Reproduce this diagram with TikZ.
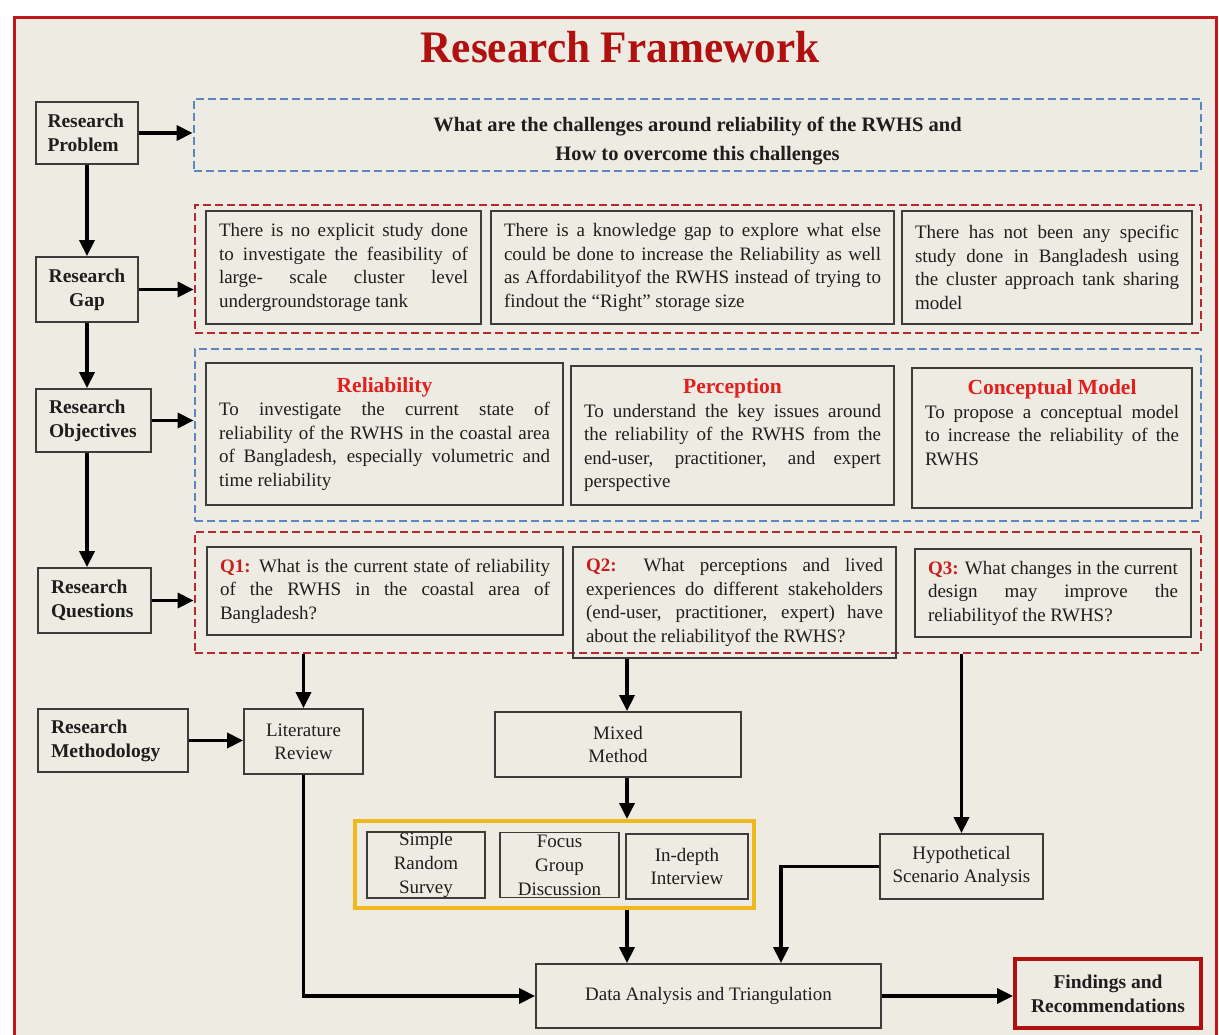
\documentclass[tikz,border=0pt]{standalone}
\usepackage{fontspec}
\setmainfont{Liberation Serif}
\usepackage{graphicx}
\usetikzlibrary{arrows.meta,calc}
\definecolor{bgbeige}{HTML}{EEEBE2}
\definecolor{framered}{HTML}{C0161C}
\definecolor{titlered}{HTML}{B0100F}
\definecolor{subred}{HTML}{E0201E}
\definecolor{qred}{HTML}{C81E1E}
\definecolor{dashblue}{HTML}{5B86C2}
\definecolor{dashred}{HTML}{B52A30}
\definecolor{boxgray}{HTML}{3C3C3C}
\definecolor{txt}{HTML}{1E1E1E}
\definecolor{goldline}{HTML}{F0B81C}
\newcommand\myBody{\fontsize{19}{23.5}\selectfont\setlength\parindent{0pt}}
\newcommand\myLbl{\fontsize{19}{23}\selectfont\setlength\parindent{0pt}}
\newcommand\myBold{\fontsize{19.5}{24}\selectfont\bfseries\setlength\parindent{0pt}}
\newcommand\jline[1]{\makebox[\hsize][s]{\spaceskip=0pt\xspaceskip=0pt\relax #1}\\}
\newcommand\plainline[1]{{\spaceskip=0pt\xspaceskip=0pt\relax #1}}
\newcommand\objtitle[1]{\makebox[\hsize]{\fontsize{21.5}{25}\selectfont\bfseries\color{subred}#1}\\}
\newcommand\qtag[1]{\textbf{\color{qred}#1}}
\begin{document}
\begin{tikzpicture}[x=1pt,y=-1pt,
  arr/.style={line width=3.5pt, draw=black, -{Triangle[length=16pt,width=15pt]}},
  gbox/.style={draw=boxgray, line width=1.8pt, inner sep=0pt, align=justify, text=txt, font=\myBody},
  cbox/.style={draw=boxgray, line width=1.8pt, inner sep=0pt, align=center, text=txt, font=\myLbl},
  bbox/.style={draw=boxgray, line width=1.8pt, inner sep=0pt, align=center, text=txt, font=\myBold},
  bluedash/.style={draw=dashblue, line width=2.8pt, dash pattern=on 8pt off 4pt, inner sep=0pt},
  reddash/.style={draw=dashred, line width=2.8pt, dash pattern=on 8pt off 4pt, inner sep=0pt}]
\useasboundingbox (0,0) rectangle (1219,1035);
\fill[white] (0,0) rectangle (1219,1035);
\fill[bgbeige] (14,18) rectangle (1216,1045);
\draw[framered,line width=3pt] (14,1045) -- (14,18) -- (1216,18) -- (1216,1045);

% title
\node[font=\fontsize{45}{50}\selectfont\bfseries, text=titlered, inner sep=0pt] (title) at (620,47.5) {\scalebox{0.96}[1]{Research Framework}};

% dashed containers
\node[bluedash, minimum width=1007pt, minimum height=72pt, align=center, font=\fontsize{20.5}{29}\selectfont\bfseries, text=txt] (qbox) at (697.5,135) {\rule{0pt}{27pt}What are the challenges around reliability of the RWHS and\\How to overcome this challenges};
\node[reddash, minimum width=1006pt, minimum height=128pt] (gapc) at (698,269) {};
\node[bluedash, minimum width=1006pt, minimum height=172pt] (objc) at (698,435) {};
\node[reddash, minimum width=1006pt, minimum height=121pt] (qc) at (698,592.5) {};

% left column
\node[bbox, minimum width=102pt, minimum height=62pt, align=left, text width=79pt] (prob) at (87,133) {Research\\Problem};
\node[bbox, minimum width=102pt, minimum height=65pt] (gap) at (87,289.5) {Research\\Gap};
\node[bbox, minimum width=115pt, minimum height=63pt, align=left, text width=89pt] (obj) at (93.5,420.5) {Research\\Objectives};
\node[bbox, minimum width=113pt, minimum height=65pt, align=left, text width=87pt] (rq) at (94.5,600.5) {Research\\Questions};
\node[bbox, minimum width=150pt, minimum height=63pt, align=left, text width=124pt] (meth) at (113,740.5) {Research\\Methodology};

% gap boxes
\node[gbox, minimum width=275pt, minimum height=113pt, text width=249pt] (g1) at (343.5,267.5) {%
\jline{There is no explicit study done}%
\jline{to investigate the feasibility of}%
\jline{large- scale cluster level}%
\plainline{undergroundstorage tank}};
\node[gbox, minimum width=403pt, minimum height=113pt, text width=377pt] (g2) at (692.5,267.5) {%
\jline{There is a knowledge gap to explore what else}%
\jline{could be done to increase the Reliability as well}%
\jline{as Affordabilityof the RWHS instead of trying to}%
\plainline{findout the “Right” storage size}};
\node[gbox, minimum width=290pt, minimum height=113pt, text width=264pt] (g3) at (1047,267.5) {%
\jline{There has not been any specific}%
\jline{study done in Bangladesh using}%
\jline{the cluster approach tank sharing}%
\plainline{model}};

% objective boxes
\node[gbox, minimum width=357pt, minimum height=142pt, text width=331pt] (o1) at (384.5,434) {%
\objtitle{Reliability}%
\jline{To investigate the current state of}%
\jline{reliability of the RWHS in the coastal area}%
\jline{of Bangladesh, especially volumetric and}%
\plainline{time reliability}};
\node[gbox, minimum width=323pt, minimum height=139pt, text width=297pt] (o2) at (732.5,435.5) {%
\objtitle{Perception}%
\jline{To understand the key issues around}%
\jline{the reliability of the RWHS from the}%
\jline{end-user, practitioner, and expert}%
\plainline{perspective}};
\node[gbox, minimum width=280pt, minimum height=140pt, text width=254pt] (o3) at (1052,438) {%
\objtitle{Conceptual Model}%
\jline{To propose a conceptual model}%
\jline{to increase the reliability of the}%
\plainline{RWHS}\\ \strut};

% question boxes
\node[gbox, minimum width=356pt, minimum height=88pt, text width=330pt] (q1) at (385,591) {%
\jline{\qtag{Q1:} What is the current state of reliability}%
\jline{of the RWHS in the coastal area of}%
\plainline{Bangladesh?}};
\node[gbox, minimum width=323pt, minimum height=111pt, text width=297pt] (q2) at (734.5,602.5) {%
\jline{\qtag{Q2:} What perceptions and lived}%
\jline{experiences do different stakeholders}%
\jline{(end-user, practitioner, expert) have}%
\plainline{about the reliabilityof the RWHS?}};
\node[gbox, minimum width=276pt, minimum height=88pt, text width=250pt] (q3) at (1053,593) {%
\jline{\qtag{Q3:} What changes in the current}%
\jline{design may improve the}%
\plainline{reliabilityof the RWHS?}};

% methodology row
\node[cbox, minimum width=119pt, minimum height=65pt] (lit) at (303.5,741.5) {Literature\\Review};
\node[cbox, minimum width=246pt, minimum height=65pt] (mixed) at (618,744.5) {Mixed\\Method};
\node[draw=goldline, line width=4pt, minimum width=399pt, minimum height=87pt, inner sep=0pt] (yel) at (554.5,864.5) {};
\node[cbox, minimum width=118pt, minimum height=65pt, font=\fontsize{19}{24}\selectfont] (s1) at (426,865) {Simple\\Random\\Survey};
\node[cbox, minimum width=119pt, minimum height=65pt, font=\fontsize{19}{24}\selectfont] (s2) at (559.5,865) {Focus\\Group\\Discussion};
\node[cbox, minimum width=122pt, minimum height=65pt] (s3) at (687,866.5) {In-depth\\Interview};
\node[cbox, minimum width=163pt, minimum height=65pt] (hyp) at (961.5,866.5) {Hypothetical\\Scenario Analysis};
\node[cbox, minimum width=345pt, minimum height=64pt] (data) at (708.5,996) {Data Analysis and Triangulation};
\node[draw=titlered, line width=4pt, inner sep=0pt, align=center, text=txt, font=\myBold, minimum width=186pt, minimum height=69pt] (find) at (1108,993.5) {Findings and\\Recommendations};

% helper columns
\coordinate (colx) at (627,0);
\coordinate (turnx) at (781,0);

% connectors
\draw[arr] (prob.east) -- (prob.east -| qbox.west);
\draw[arr] (prob.south) -- (gap.north);
\draw[arr] (gap.east) -- (gap.east -| gapc.west);
\draw[arr] (gap.south) -- (gap.south |- obj.north);
\draw[arr] (obj.east) -- (obj.east -| objc.west);
\draw[arr] (gap.south |- obj.south) -- (gap.south |- rq.north);
\draw[arr] (rq.east) -- (rq.east -| qc.west);
\draw[arr] (lit.north |- qc.south) -- (lit.north);
\draw[arr] (meth.east) -- (meth.east -| lit.west);
\draw[arr] (q2.south -| colx) -- (mixed.north -| colx);
\draw[arr] (mixed.south -| colx) -- (yel.north -| colx);
\draw[arr] (yel.south -| colx) -- (data.north -| colx);
\draw[arr] (lit.south) |- (data.west);
\draw[arr] (hyp.north |- qc.south) -- (hyp.north);
\draw[arr] (hyp.west) -| (data.north -| turnx);
\draw[arr] (data.east) -- (data.east -| find.west);
\end{tikzpicture}
\end{document}
